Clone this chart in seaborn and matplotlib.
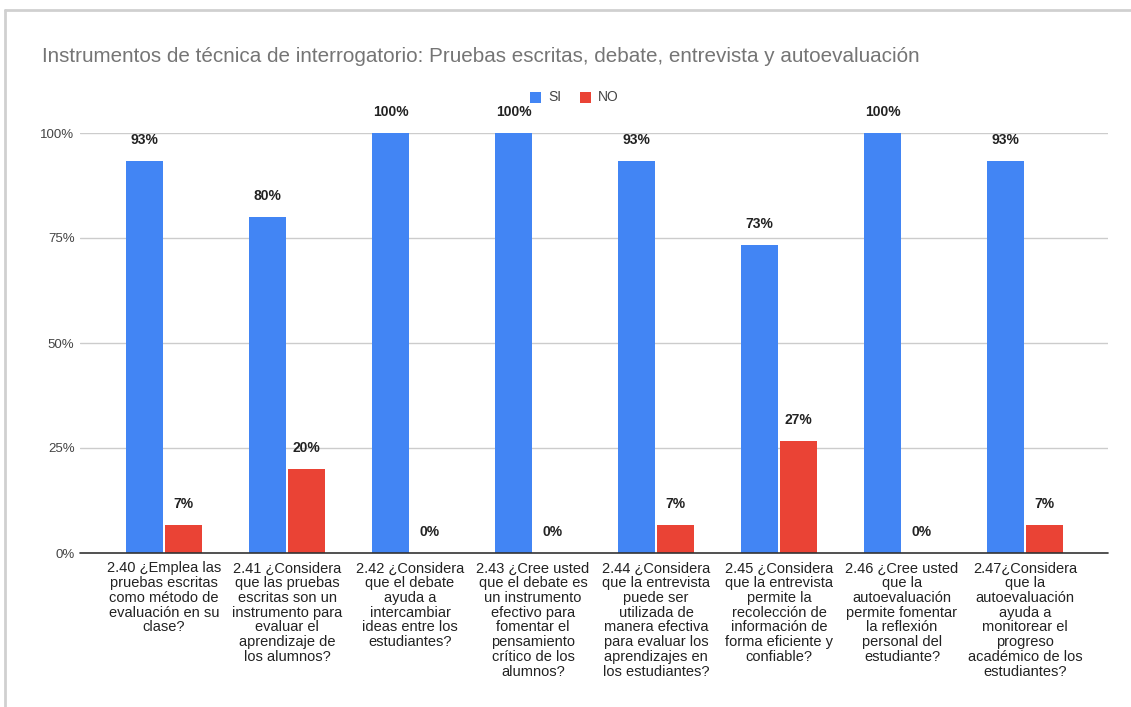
import matplotlib
matplotlib.use("Agg")
import matplotlib.pyplot as plt
from matplotlib.lines import Line2D
from matplotlib.patches import Rectangle
import seaborn as sns
import pandas as pd

categories = [
    "2.40 ¿Emplea las\npruebas escritas\ncomo método de\nevaluación en su\nclase?",
    "2.41 ¿Considera\nque las pruebas\nescritas son un\ninstrumento para\nevaluar el\naprendizaje de\nlos alumnos?",
    "2.42 ¿Considera\nque el debate\nayuda a\nintercambiar\nideas entre los\nestudiantes?",
    "2.43 ¿Cree usted\nque el debate es\nun instrumento\nefectivo para\nfomentar el\npensamiento\ncrítico de los\nalumnos?",
    "2.44 ¿Considera\nque la entrevista\npuede ser\nutilizada de\nmanera efectiva\npara evaluar los\naprendizajes en\nlos estudiantes?",
    "2.45 ¿Considera\nque la entrevista\npermite la\nrecolección de\ninformación de\nforma eficiente y\nconfiable?",
    "2.46 ¿Cree usted\nque la\nautoevaluación\npermite fomentar\nla reflexión\npersonal del\nestudiante?",
    "2.47¿Considera\nque la\nautoevaluación\nayuda a\nmonitorear el\nprogreso\nacadémico de los\nestudiantes?",
]
si_values = [0.9333, 0.80, 1.00, 1.00, 0.9333, 0.7333, 1.00, 0.9333]
no_values = [0.0667, 0.20, 0.00, 0.00, 0.0667, 0.2667, 0.00, 0.0667]
series_names = ["SI", "NO"]
title = "Instrumentos de técnica de interrogatorio: Pruebas escritas, debate, entrevista y autoevaluación"
y_ticks = [0, 0.25, 0.5, 0.75, 1.0]
y_tick_labels = ["0%", "25%", "50%", "75%", "100%"]
colors = ["#4285F4", "#EA4335"]

df = pd.DataFrame({
    "cat": categories * 2,
    "serie": [series_names[0]] * len(categories) + [series_names[1]] * len(categories),
    "val": si_values + no_values,
})

sns.set_theme(style="white")
plt.rcParams["font.family"] = ["Liberation Sans", "DejaVu Sans"]

W, H = 1131, 707
fig = plt.figure(figsize=(W / 100, H / 100), dpi=100)
ax = fig.add_axes([80 / W, 1 - 553 / H, (1108 - 80) / W, (553 - 133) / H])

sns.barplot(data=df, x="cat", y="val", hue="serie", hue_order=series_names,
            palette=colors, width=0.63, gap=0.03, ax=ax, legend=False,
            saturation=1, edgecolor="none")

ax.set_xlim(-0.683, 7.675)
ax.set_ylim(0, 1.0)
ax.set_yticks(y_ticks)
ax.set_yticklabels(y_tick_labels, color="#444444", fontsize=9.5)
ax.set_xlabel("")
ax.set_ylabel("")
ax.tick_params(axis="x", length=0, pad=6)
ax.tick_params(axis="y", length=0, pad=4)
ax.set_xticks(range(len(categories)))
ax.set_xticklabels(categories, fontsize=10.5, color="#222222", linespacing=1.07, va="top")
for s in ax.spines.values():
    s.set_visible(False)
ax.grid(False)
for yv in y_ticks[1:]:
    ax.axhline(yv, color="#cccccc", lw=1, zorder=0)
ax.axhline(0, color="#333333", lw=1.2, zorder=3, clip_on=False)

for cont, vals in zip(ax.containers, [si_values, no_values]):
    for bar, v in zip(cont, vals):
        cx = bar.get_x() + bar.get_width() / 2
        ax.annotate(f"{v * 100:.0f}%", (cx, v), xytext=(0, 15), textcoords="offset points",
                    ha="center", va="center", fontsize=10, fontweight="bold",
                    color="#222222", annotation_clip=False)

fig.text(42 / W, 1 - 56 / H, title, fontsize=14.9, color="#757575", ha="left", va="center")

# legend
for i, (name, c) in enumerate(zip(series_names, colors)):
    x0 = [530, 580][i]
    fig.patches.append(Rectangle((x0 / W, 1 - 103 / H), 11 / W, 11 / H, transform=fig.transFigure,
                                 facecolor=c, edgecolor="none"))
    fig.text((x0 + 18) / W, 1 - 97 / H, name, fontsize=10, color="#444444", ha="left", va="center")

# frame border
fig.add_artist(Line2D([5 / W, 1], [1 - 10 / H, 1 - 10 / H], color="#d0d0d0", lw=2, transform=fig.transFigure))
fig.add_artist(Line2D([5 / W, 5 / W], [0, 1 - 10 / H], color="#d0d0d0", lw=2, transform=fig.transFigure))

fig.savefig("out.png", dpi=100, facecolor="white")
